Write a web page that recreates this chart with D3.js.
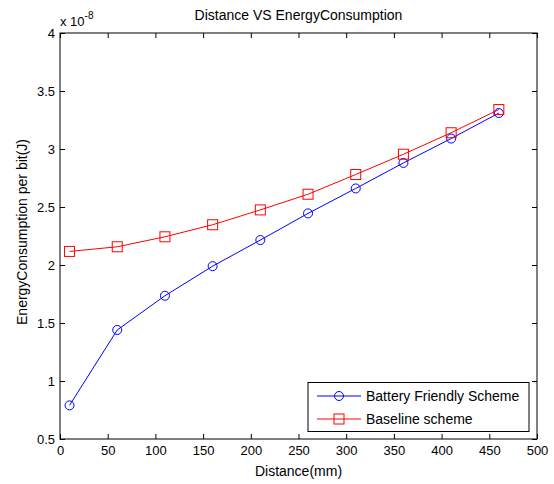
<!DOCTYPE html>
<html><head><meta charset="utf-8">
<script src="https://cdn.jsdelivr.net/npm/d3@7"></script>
<style>body{margin:0;background:#fff}svg{display:block}text{font-family:"Liberation Sans",Arial,sans-serif}</style>
</head><body><svg id="c" width="554" height="484"></svg>
<script>
const distances = [10,60,110,160,210,260,310,360,410,460];
const batteryFriendly = [0.79,1.44,1.735,1.99,2.215,2.445,2.66,2.88,3.09,3.31];
const baseline = [2.117,2.157,2.243,2.347,2.475,2.61,2.78,2.955,3.14,3.34];
const xTicks = [0,50,100,150,200,250,300,350,400,450,500];
const yTicks = [0.5,1,1.5,2,2.5,3,3.5,4];
const seriesNames = ["Battery Friendly Scheme","Baseline scheme"];

const svg = d3.select("#c");
const L=60,R=537,T=33,B=439;
const x = d3.scaleLinear().domain([0,500]).range([L,R]);
const y = d3.scaleLinear().domain([0.5,4]).range([B,T]);

svg.append("rect").attr("x",L).attr("y",T).attr("width",R-L).attr("height",B-T)
  .attr("fill","#fff").attr("stroke","#000").attr("stroke-width",1);

const tfs = 13, fs = 14;
const xb = svg.append("g").attr("transform",`translate(0,${B})`)
  .call(d3.axisBottom(x).tickValues(xTicks).tickSize(0).tickPadding(7).tickFormat(d3.format("d")));
xb.select(".domain").remove();
xb.selectAll("text").attr("font-size",tfs).attr("fill","#000").attr("font-family","Liberation Sans, Arial, sans-serif");
const xt = svg.append("g").attr("transform",`translate(0,${B})`).call(d3.axisTop(x).tickValues(xTicks).tickSize(5).tickFormat(""));
xt.select(".domain").remove();
const xt2 = svg.append("g").attr("transform",`translate(0,${T})`).call(d3.axisBottom(x).tickValues(xTicks).tickSize(5).tickFormat(""));
xt2.select(".domain").remove();
const yl = svg.append("g").attr("transform",`translate(${L},0)`)
  .call(d3.axisLeft(y).tickValues(yTicks).tickSize(0).tickPadding(5).tickFormat(d=>d3.format("")(d)));
yl.select(".domain").remove();
yl.selectAll("text").attr("font-size",tfs).attr("fill","#000").attr("font-family","Liberation Sans, Arial, sans-serif");
const yt = svg.append("g").attr("transform",`translate(${L},0)`).call(d3.axisRight(y).tickValues(yTicks).tickSize(5).tickFormat(""));
yt.select(".domain").remove();
const yt2 = svg.append("g").attr("transform",`translate(${R},0)`).call(d3.axisLeft(y).tickValues(yTicks).tickSize(5).tickFormat(""));
yt2.select(".domain").remove();
svg.selectAll(".tick line").attr("stroke","#000");

const ex = svg.append("text").attr("x",L).attr("y",26).attr("font-size",13).attr("fill","#000");
ex.append("tspan").text("x 10");
ex.append("tspan").attr("dy",-7).attr("font-size",10).text("-8");

svg.append("text").attr("x",(L+R)/2).attr("y",20).attr("text-anchor","middle").attr("font-size",fs).text("Distance VS EnergyConsumption");
svg.append("text").attr("x",(L+R)/2).attr("y",476).attr("text-anchor","middle").attr("font-size",fs).text("Distance(mm)");
svg.append("text").attr("transform",`translate(27,232) rotate(-90)`).attr("text-anchor","middle").attr("font-size",fs).text("EnergyConsumption per bit(J)");

const line = d3.line().x((d,i)=>x(distances[i])).y(d=>y(d));
const colors = ["#0000ff","#ff0000"];
[batteryFriendly,baseline].forEach((s,k)=>{
  svg.append("path").datum(s).attr("d",line).attr("fill","none").attr("stroke",colors[k]).attr("stroke-width",1);
});
svg.selectAll(".c1").data(batteryFriendly).enter().append("circle")
  .attr("cx",(d,i)=>x(distances[i])).attr("cy",d=>y(d)).attr("r",4.5)
  .attr("fill","none").attr("stroke",colors[0]).attr("stroke-width",1);
svg.selectAll(".s1").data(baseline).enter().append("rect")
  .attr("x",(d,i)=>x(distances[i])-5).attr("y",d=>y(d)-5).attr("width",10).attr("height",10)
  .attr("fill","none").attr("stroke",colors[1]).attr("stroke-width",1);

const lg = svg.append("g");
lg.append("rect").attr("x",308).attr("y",382.5).attr("width",221).attr("height",49)
  .attr("fill","#fff").attr("stroke","#000").attr("stroke-width",1);
const rows=[396,419];
seriesNames.forEach((n,k)=>{
  lg.append("line").attr("x1",317).attr("x2",361).attr("y1",rows[k]).attr("y2",rows[k]).attr("stroke",colors[k]);
  if(k===0) lg.append("circle").attr("cx",339).attr("cy",rows[k]).attr("r",4.5).attr("fill","none").attr("stroke",colors[k]);
  else lg.append("rect").attr("x",334).attr("y",rows[k]-5).attr("width",10).attr("height",10).attr("fill","none").attr("stroke",colors[k]);
  lg.append("text").attr("x",366).attr("y",rows[k]+5).attr("font-size",fs).text(n);
});
</script></body></html>
